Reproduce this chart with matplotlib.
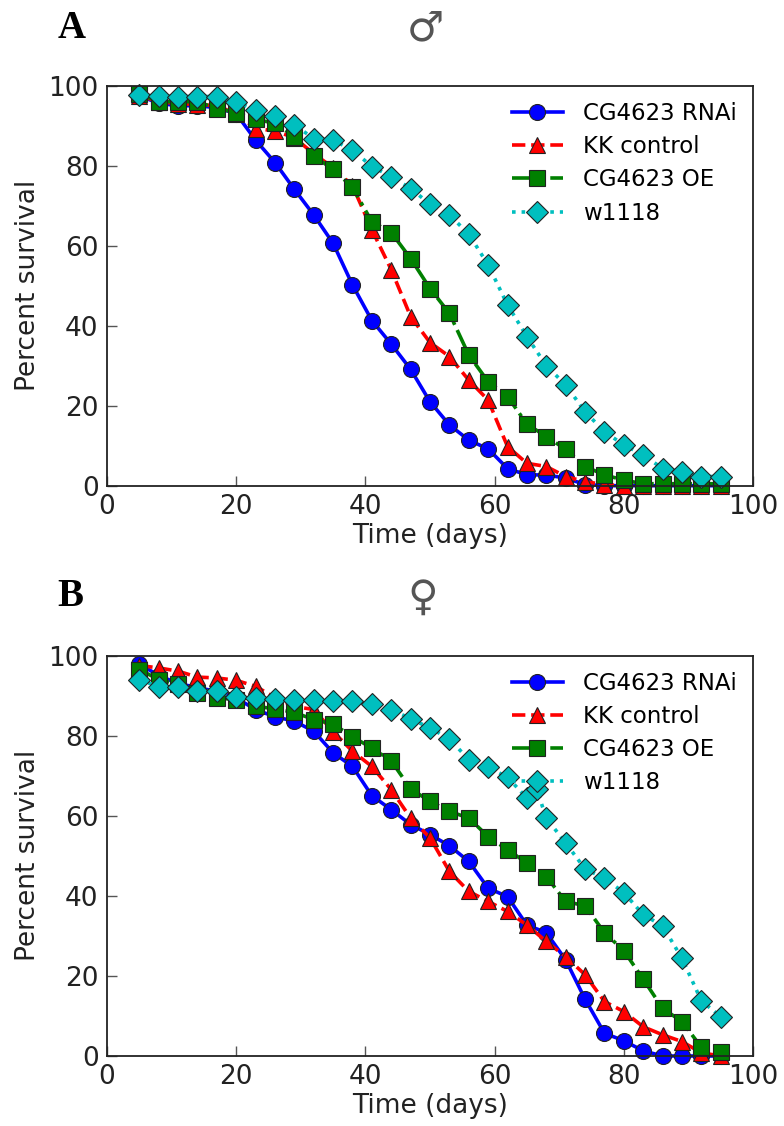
import numpy as np
import matplotlib
matplotlib.use("Agg")
import matplotlib.pyplot as plt

# survival, one value per 3-day census
days = list(range(5, 96, 3))

# A: males
rnai_m = [97.5, 95.6, 95.0, 95.0, 94.5, 93.0, 86.4, 80.8, 74.1, 67.7, 60.6, 50.2, 41.3, 35.4, 29.1, 21.0,
          15.2, 11.4, 9.2, 4.3, 2.7, 2.7, 1.9, 0.3, 0, 0, 0, 0, 0, 0, 0]
kk_m = [97.5, 96.0, 95.5, 95.3, 95.0, 93.0, 89.3, 88.7, 87.0, 83.0, 79.5, 75.0, 64.0, 54.0, 42.3, 35.8,
        32.3, 26.4, 21.4, 9.8, 5.6, 4.8, 2.3, 1.0, 0.3, 0, 0, 0, 0, 0, 0]
oe_m = [98.0, 96.0, 96.0, 96.0, 94.3, 93.3, 91.6, 90.6, 87.3, 82.4, 79.1, 74.6, 66.0, 63.3, 56.8, 49.3,
        43.1, 32.7, 26.0, 22.3, 15.4, 12.3, 9.1, 4.8, 2.7, 1.4, 0.5, 0.5, 0.5, 0.5, 0.5]
w_m = [97.7, 97.4, 97.3, 97.3, 97.3, 96.0, 93.9, 92.4, 90.2, 86.8, 86.4, 83.9, 79.8, 77.3, 74.3, 70.4,
       67.7, 62.9, 55.2, 45.2, 37.3, 30.0, 25.2, 18.5, 13.5, 10.2, 7.7, 4.3, 3.5, 2.3, 2.3]

# B: females
rnai_f = [97.9, 95.0, 93.0, 92.0, 91.0, 89.4, 86.5, 84.7, 83.6, 81.1, 75.7, 72.3, 65.0, 61.5, 57.8, 55.3,
          52.5, 48.6, 41.9, 39.8, 32.7, 30.8, 24.0, 14.2, 5.7, 3.8, 1.3, 0, 0, 0, 0]
kk_f = [97.5, 96.9, 96.1, 94.6, 94.4, 93.8, 92.3, 89.5, 87.3, 86.5, 81.0, 76.1, 72.3, 66.5, 59.4, 54.5,
        46.1, 41.1, 38.6, 36.1, 32.7, 28.6, 24.8, 20.3, 13.6, 11.1, 7.3, 5.3, 3.6, 0.8, 0.0]
oe_f = [96.5, 94.0, 92.8, 90.7, 89.4, 89.0, 87.3, 86.7, 85.8, 84.0, 82.9, 79.7, 76.9, 73.7, 66.7, 63.6,
        61.1, 59.4, 54.8, 51.5, 48.2, 44.8, 38.6, 37.5, 30.8, 26.3, 19.2, 11.9, 8.6, 2.2, 1.1]
w_days_f = days[:21] + [66.5] + days[21:]
w_f = [94.0, 92.2, 92.2, 91.1, 91.1, 89.6, 89.4, 89.2, 88.8, 88.8, 88.6, 88.6, 88.0, 86.5, 84.2, 81.9,
       79.2, 74.0, 72.1, 69.6, 64.4, 66.7, 59.4, 53.2, 46.7, 44.4, 40.8, 35.3, 32.5, 24.4, 13.8, 9.8]

labels = ["CG4623 RNAi", "KK control", "CG4623 OE", "w1118"]
styles = [dict(color="b", ls="-", marker="o", ms=11.5),
          dict(color="r", ls="--", marker="^", ms=11.5),
          dict(color="g", ls="-.", marker="s", ms=11),
          dict(color="c", ls=":", marker="D", ms=11)]

W, H = 784, 1126
fig = plt.figure(figsize=(W / 100, H / 100), dpi=100)
ax_a = fig.add_axes([107 / W, 1 - 485.7 / H, 646 / W, 400 / H])
ax_b = fig.add_axes([107 / W, 1 - 1056 / H, 646 / W, 400.5 / H])

panels = [(ax_a, [(days, rnai_m), (days, kk_m), (days, oe_m), (days, w_m)]),
          (ax_b, [(days, rnai_f), (days, kk_f), (days, oe_f), (w_days_f, w_f)])]
for ax, series in panels:
    for (x, y), lab, st in zip(series, labels, styles):
        ax.plot(x, y, lw=2.6, mec="#222222", mew=0.8, label=lab, clip_on=False, **st)
    ax.set_xlim(0, 100); ax.set_ylim(0, 100)
    ax.set_xticks(range(0, 101, 20)); ax.set_yticks(range(0, 101, 20))
    ax.tick_params(direction="in", length=7, width=1, color="#555555", labelsize=19, pad=6,
                   labelcolor="#222222")
    for s in ax.spines.values():
        s.set_linewidth(1.3); s.set_color("#222222")
    ax.set_xlabel("Time (days)", fontsize=19, labelpad=2, color="#222222")
    ax.set_ylabel("Percent survival", fontsize=19, labelpad=5, color="#222222")
    ax.legend(loc="upper right", frameon=False, fontsize=16.5, handlelength=2.2,
              borderaxespad=0.3, labelspacing=0.45, handletextpad=0.9)

fig.text(72 / W, 1 - 28.5 / H, "A", fontsize=28, fontweight="bold", family="Liberation Serif",
         ha="center", va="center")
fig.text(70 / W, 1 - 596.5 / H, "B", fontsize=28, fontweight="bold", family="Liberation Serif",
         ha="center", va="center")
fig.text(425 / W, 1 - 28 / H, "\u2642", fontsize=30, color="#555555", ha="center", va="center")
fig.text(423 / W, 1 - 598 / H, "\u2640", fontsize=30, color="#555555", ha="center", va="center")

fig.savefig("out.png", dpi=100)
